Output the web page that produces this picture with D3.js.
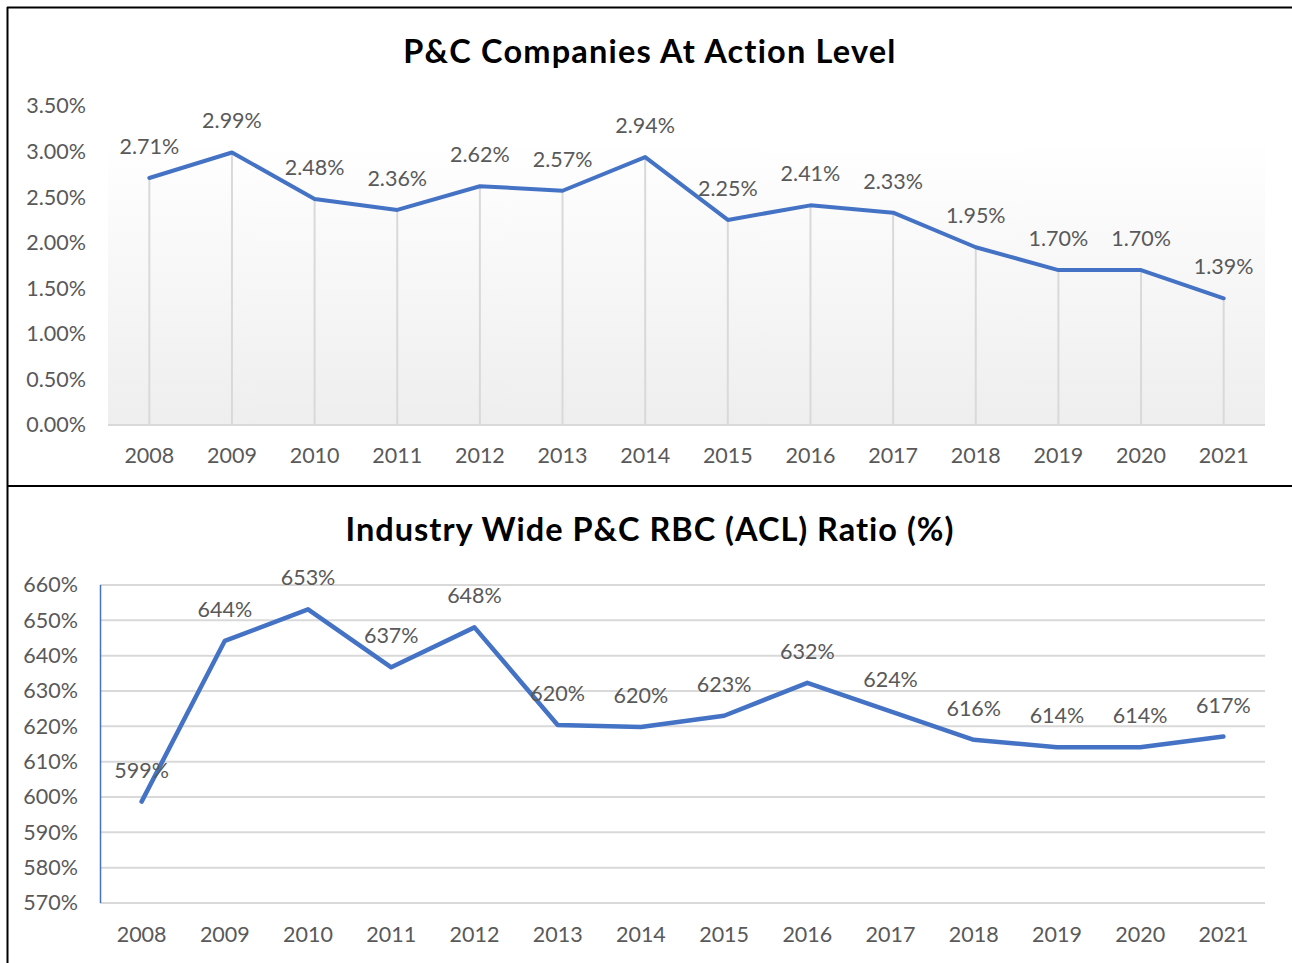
<!DOCTYPE html>
<html><head><meta charset="utf-8">
<script src="https://cdn.jsdelivr.net/npm/d3@7"></script>
<style>
html,body{margin:0;padding:0;background:#fff;}
svg{display:block;}
</style></head>
<body>
<svg id="chart" width="1292" height="963"></svg>
<script>
const years = ["2008","2009","2010","2011","2012","2013","2014","2015","2016","2017","2018","2019","2020","2021"];
const actionLevel = [2.71,2.99,2.48,2.36,2.62,2.57,2.94,2.25,2.41,2.33,1.95,1.70,1.70,1.39];
const rbcRatio = [598.7,644.2,653.1,636.7,648.0,620.4,619.8,623.0,632.3,624.2,616.2,614.1,614.1,617.1];
const topTicks = [0,0.5,1,1.5,2,2.5,3,3.5];
const bottomTicks = [570,580,590,600,610,620,630,640,650,660];
const titles = ["P&C Companies At Action Level","Industry Wide P&C RBC (ACL) Ratio (%)"];

const FONT = "Lato, 'Open Sans', sans-serif";
const BLUE = "#4472C4";
const GRID = "#d9d9d9";
const TXT = "#595959";
const FS = 21.5;

const svg = d3.select("#chart");

// panel borders
svg.append("line").attr("x1",7).attr("x2",1292).attr("y1",7.5).attr("y2",7.5).attr("stroke","#000").attr("stroke-width",2);
svg.append("line").attr("x1",7.5).attr("x2",7.5).attr("y1",7).attr("y2",963).attr("stroke","#000").attr("stroke-width",2);
svg.append("line").attr("x1",7).attr("x2",1292).attr("y1",486).attr("y2",486).attr("stroke","#000").attr("stroke-width",2);

const defs = svg.append("defs");
const grad = defs.append("linearGradient").attr("id","bg").attr("x1",0).attr("x2",0).attr("y1",0).attr("y2",1);
grad.append("stop").attr("offset","0%").attr("stop-color","#ffffff");
grad.append("stop").attr("offset","100%").attr("stop-color","#eeeeee");

// ---------- TOP CHART ----------
{
  const x = d3.scaleBand().domain(years).range([108,1265]).padding(0);
  const y = d3.scaleLinear().domain([0,3.5]).range([425,106]);
  const cx = d => x(d) + x.bandwidth()/2;

  svg.append("text").attr("x",650).attr("y",63).attr("text-anchor","middle")
    .attr("font-family",FONT).attr("font-weight","bold").attr("font-size",32.5).attr("letter-spacing",1.2).attr("fill","#000")
    .text(titles[0]);

  svg.append("rect").attr("x",108).attr("y",140).attr("width",1265-108).attr("height",425-140).attr("fill","url(#bg)");

  const yAxis = svg.append("g").attr("transform","translate(96,0)")
    .call(d3.axisLeft(y).tickValues(topTicks).tickFormat(d => d.toFixed(2)+"%").tickSize(0).tickPadding(10));
  yAxis.select(".domain").remove();
  yAxis.selectAll("text").attr("font-family",FONT).attr("font-size",FS).attr("fill",TXT);

  svg.append("line").attr("x1",108).attr("x2",1265).attr("y1",y(0)).attr("y2",y(0)).attr("stroke",GRID).attr("stroke-width",2);

  const xAxis = svg.append("g").attr("transform","translate(0,"+y(0)+")")
    .call(d3.axisBottom(x).tickSize(0).tickPadding(23));
  xAxis.select(".domain").remove();
  xAxis.selectAll("text").attr("font-family",FONT).attr("font-size",FS).attr("fill",TXT);

  svg.append("g").selectAll("line").data(years).join("line")
    .attr("x1",d=>cx(d)).attr("x2",d=>cx(d))
    .attr("y1",(d,i)=>y(actionLevel[i])).attr("y2",y(0))
    .attr("stroke",GRID).attr("stroke-width",2);

  const line = d3.line().x((d,i)=>cx(years[i])).y(d=>y(d));
  svg.append("path").datum(actionLevel).attr("d",line).attr("fill","none")
    .attr("stroke",BLUE).attr("stroke-width",4).attr("stroke-linejoin","round").attr("stroke-linecap","round");

  svg.append("g").selectAll("text").data(actionLevel).join("text")
    .attr("x",(d,i)=>cx(years[i])).attr("y",d=>y(d)-24)
    .attr("text-anchor","middle").attr("font-family",FONT).attr("font-size",FS).attr("fill",TXT)
    .text(d=>d.toFixed(2)+"%");
}

// ---------- BOTTOM CHART ----------
{
  const x = d3.scaleBand().domain(years).range([100,1265]).padding(0);
  const y = d3.scaleLinear().domain([570,660]).range([903,585]);
  const cx = d => x(d) + x.bandwidth()/2;

  svg.append("text").attr("x",650).attr("y",541).attr("text-anchor","middle")
    .attr("font-family",FONT).attr("font-weight","bold").attr("font-size",32.5).attr("letter-spacing",1.0).attr("fill","#000")
    .text(titles[1]);

  svg.append("g").selectAll("line").data(bottomTicks).join("line")
    .attr("x1",100).attr("x2",1265).attr("y1",d=>y(d)).attr("y2",d=>y(d))
    .attr("stroke",GRID).attr("stroke-width",2);

  const yAxis = svg.append("g").attr("transform","translate(88,0)")
    .call(d3.axisLeft(y).tickValues(bottomTicks).tickFormat(d => d+"%").tickSize(0).tickPadding(10));
  yAxis.select(".domain").remove();
  yAxis.selectAll("text").attr("font-family",FONT).attr("font-size",FS).attr("fill",TXT);

  svg.append("line").attr("x1",100.5).attr("x2",100.5).attr("y1",585).attr("y2",903).attr("stroke",BLUE).attr("stroke-width",1.5);

  const xAxis = svg.append("g").attr("transform","translate(0,"+y(570)+")")
    .call(d3.axisBottom(x).tickSize(0).tickPadding(24));
  xAxis.select(".domain").remove();
  xAxis.selectAll("text").attr("font-family",FONT).attr("font-size",FS).attr("fill",TXT);

  const line = d3.line().x((d,i)=>cx(years[i])).y(d=>y(d));
  svg.append("path").datum(rbcRatio).attr("d",line).attr("fill","none")
    .attr("stroke",BLUE).attr("stroke-width",4.5).attr("stroke-linejoin","round").attr("stroke-linecap","round");

  svg.append("g").selectAll("text").data(rbcRatio).join("text")
    .attr("x",(d,i)=>cx(years[i])).attr("y",d=>y(d)-24)
    .attr("text-anchor","middle").attr("font-family",FONT).attr("font-size",FS).attr("fill",TXT)
    .text(d=>Math.round(d)+"%");
}
</script>
</body></html>
